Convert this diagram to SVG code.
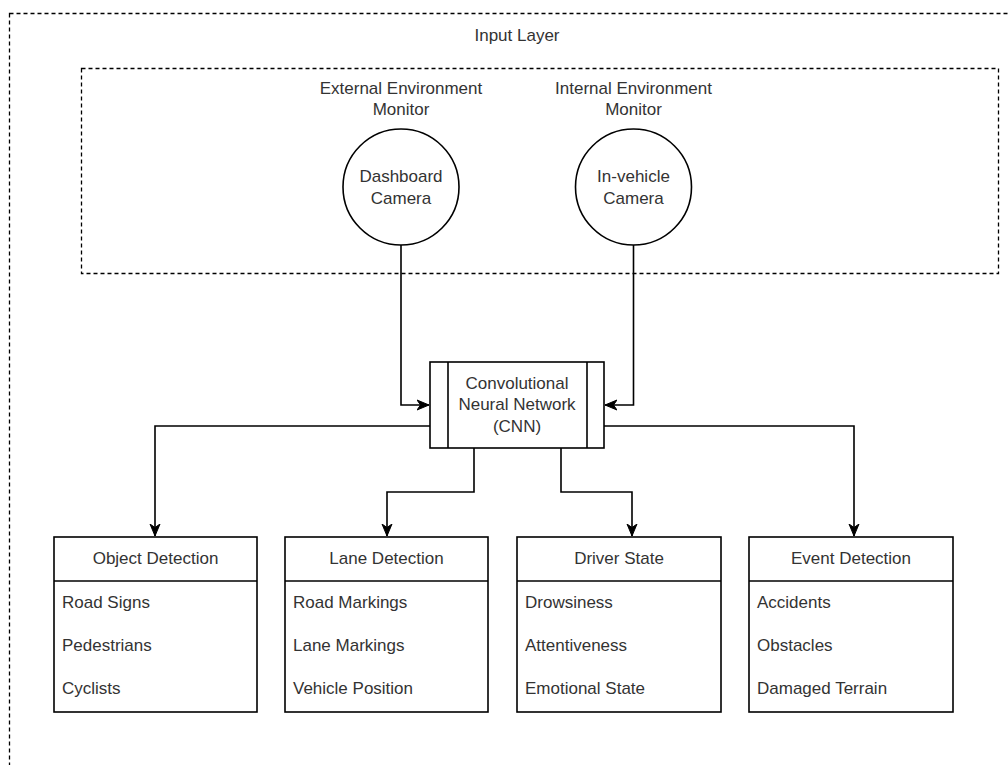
<svg xmlns="http://www.w3.org/2000/svg" width="1008" height="765" viewBox="0 0 1008 765">
  <defs>
    <style>
      .lbl { font-family: "Liberation Sans", Arial, sans-serif; font-size: 17px; fill: #333333; }
      .mid { text-anchor: middle; }
      .frame { fill: none; stroke: #000000; stroke-width: 1.3; stroke-dasharray: 4 3; }
      .shape { fill: #ffffff; stroke: #000000; stroke-width: 1.6; }
      .edge { fill: none; stroke: #000000; stroke-width: 1.6; marker-end: url(#arrow); }
    </style>
    <marker id="arrow" markerUnits="userSpaceOnUse" markerWidth="14" markerHeight="12" refX="12" refY="6" orient="auto">
      <path d="M0,1 L12,6 L0,11 L3.5,6 Z" fill="#000000" stroke="#000000" stroke-width="1"/>
    </marker>
  </defs>

  <rect width="1008" height="765" fill="#ffffff"/>

  <!-- Outer input layer frame (runs past the canvas edge) -->
  <g id="input-layer">
    <rect class="frame" x="9.5" y="13.5" width="1010" height="770"/>
    <text class="lbl mid" x="517" y="41">Input Layer</text>
  </g>

  <!-- Sensor group frame -->
  <g id="sensor-frame">
    <rect class="frame" x="81.5" y="68.5" width="917" height="205"/>
  </g>

  <!-- Connectors -->
  <g id="connectors">
    <path class="edge" d="M401,245 V405 H429"/>
    <path class="edge" d="M633.5,245 V405 H605"/>
    <path class="edge" d="M430,426 H155 V536"/>
    <path class="edge" d="M474,448 V492 H387 V536"/>
    <path class="edge" d="M561,448 V492 H632 V536"/>
    <path class="edge" d="M604,426 H854 V536"/>
  </g>

  <g id="dashboard-camera">
    <text class="lbl mid" x="401" y="94">External Environment</text>
    <text class="lbl mid" x="401" y="115">Monitor</text>
    <circle class="shape" cx="401" cy="187" r="58"/>
    <text class="lbl mid" x="401" y="182">Dashboard</text>
    <text class="lbl mid" x="401" y="204">Camera</text>
  </g>

  <g id="in-vehicle-camera">
    <text class="lbl mid" x="633.5" y="94">Internal Environment</text>
    <text class="lbl mid" x="633.5" y="115">Monitor</text>
    <circle class="shape" cx="633.5" cy="187" r="58"/>
    <text class="lbl mid" x="633.5" y="182">In-vehicle</text>
    <text class="lbl mid" x="633.5" y="204">Camera</text>
  </g>

  <g id="cnn">
    <rect class="shape" x="430" y="362" width="174" height="86"/>
    <line x1="448" y1="362" x2="448" y2="448" stroke="#000000" stroke-width="1.6"/>
    <line x1="587" y1="362" x2="587" y2="448" stroke="#000000" stroke-width="1.6"/>
    <text class="lbl mid" x="517" y="389">Convolutional</text>
    <text class="lbl mid" x="517" y="410">Neural Network</text>
    <text class="lbl mid" x="517" y="432">(CNN)</text>
  </g>

  <g id="object-detection">
    <rect class="shape" x="54" y="537" width="203" height="175"/>
    <line x1="54" y1="581" x2="257" y2="581" stroke="#000000" stroke-width="1.6"/>
    <text class="lbl mid" x="155.5" y="564">Object Detection</text>
    <text class="lbl" x="62" y="608">Road Signs</text>
    <text class="lbl" x="62" y="651">Pedestrians</text>
    <text class="lbl" x="62" y="694">Cyclists</text>
  </g>

  <g id="lane-detection">
    <rect class="shape" x="285" y="537" width="203" height="175"/>
    <line x1="285" y1="581" x2="488" y2="581" stroke="#000000" stroke-width="1.6"/>
    <text class="lbl mid" x="386.5" y="564">Lane Detection</text>
    <text class="lbl" x="293" y="608">Road Markings</text>
    <text class="lbl" x="293" y="651">Lane Markings</text>
    <text class="lbl" x="293" y="694">Vehicle Position</text>
  </g>

  <g id="driver-state">
    <rect class="shape" x="517" y="537" width="204" height="175"/>
    <line x1="517" y1="581" x2="721" y2="581" stroke="#000000" stroke-width="1.6"/>
    <text class="lbl mid" x="619" y="564">Driver State</text>
    <text class="lbl" x="525" y="608">Drowsiness</text>
    <text class="lbl" x="525" y="651">Attentiveness</text>
    <text class="lbl" x="525" y="694">Emotional State</text>
  </g>

  <g id="event-detection">
    <rect class="shape" x="749" y="537" width="204" height="175"/>
    <line x1="749" y1="581" x2="953" y2="581" stroke="#000000" stroke-width="1.6"/>
    <text class="lbl mid" x="851" y="564">Event Detection</text>
    <text class="lbl" x="757" y="608">Accidents</text>
    <text class="lbl" x="757" y="651">Obstacles</text>
    <text class="lbl" x="757" y="694">Damaged Terrain</text>
  </g>
</svg>
